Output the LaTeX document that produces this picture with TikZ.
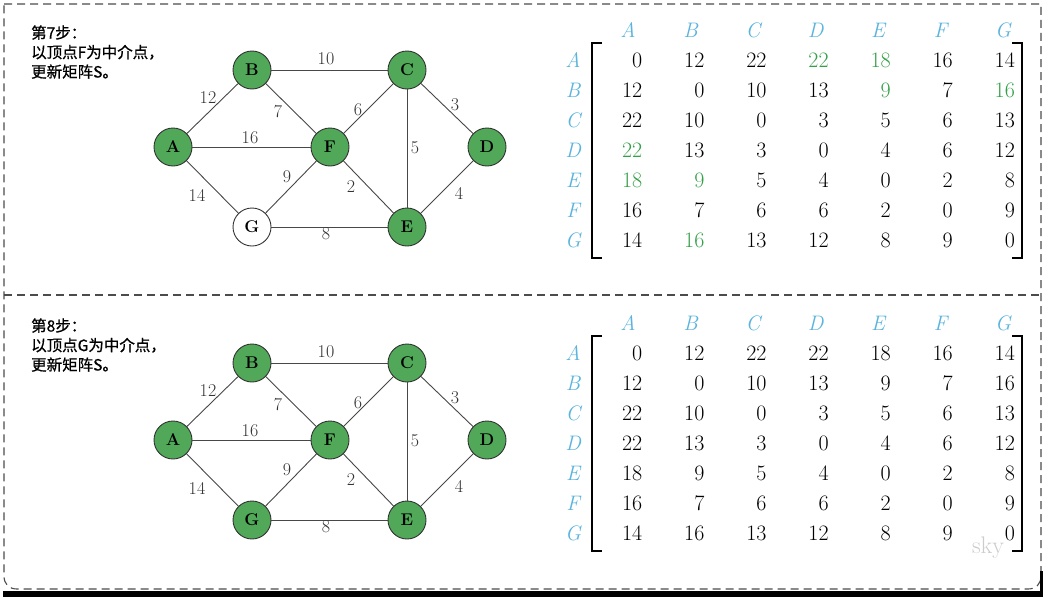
\documentclass[tikz,border=0pt]{standalone}
\usepackage{fontspec}
\newfontfamily\cjk[FakeBold=0.8]{Noto Sans CJK SC}
\definecolor{vgreen}{RGB}{80,168,88}
\definecolor{mgreen}{RGB}{52,160,72}
\definecolor{hblue}{RGB}{90,180,222}
\newcommand\hl[1]{\textcolor{mgreen}{#1}}

% one step: graph, caption and distance matrix
% #1 name prefix, #2 vertical offset, #3 fill of G, #4 step, #5 middle vertex, #6 matrix rows
\newcommand\drawstep[6]{%
  \begin{scope}[yshift=-#2pt]
    \node[steptext] (#1capa) at (31,38.5) {第#4步：};
    \node[steptext] (#1capb) at (31,58) {以顶点#5为中介点，};
    \node[steptext] (#1capc) at (31,77.5) {更新矩阵S。};
    % vertices
    \node[vtx] (#1A) at (173,147) {A};
    \node[vtx] (#1B) at (252,70)  {B};
    \node[vtx] (#1C) at (407,70)  {C};
    \node[vtx] (#1D) at (487,147) {D};
    \node[vtx] (#1E) at (407,227) {E};
    \node[vtx] (#1F) at (330,147) {F};
    \node[vtx, fill=#3] (#1G) at (252,227) {G};
    % edges
    \foreach \u/\w in {A/B,B/C,A/F,B/F,F/C,C/D,C/E,F/E,D/E,A/G,G/F,G/E}
      \draw[link] (#1\u) -- (#1\w);
    % edge weights
    \foreach \t/\x/\y in {10/326/59,12/208/98,7/278/112,6/358/110,3/455/105,
                          16/250/138,5/415/148,9/287/177,2/351/187,14/197/195,
                          4/459/193,8/326/234}
      \node[wlab] (#1w\t) at (\x,\y) {\t};
    % matrix headings
    \foreach \l [count=\i] in {A,B,C,D,E,F,G}{
      \node[hdr] (#1c\l) at ({628+62.5*(\i-1)},30) {\l};
      \node[hdr] (#1r\l) at (573,{60+30*(\i-1)}) {\l};
    }
    % matrix entries
    \foreach \row [count=\i] in {#6}
      \foreach \v [count=\j] in \row
        \node[ent] (#1m\i\j) at ({642.5+62.1*(\j-1)},{60+30*(\i-1)}) {\v};
    % brackets
    \draw[brk] (602,43) -- (592,43) -- (592,258) -- (602,258);
    \draw[brk] (1012,43) -- (1022,43) -- (1022,258) -- (1012,258);
  \end{scope}}

\begin{document}
\begin{tikzpicture}[x=1pt,y=-1pt,
  vtx/.style={circle, draw=black!80, line width=0.9pt, minimum size=38pt,
              inner sep=0pt, fill=vgreen, font=\fontsize{17}{17}\selectfont\bfseries},
  link/.style={draw=black!72, line width=0.9pt},
  wlab/.style={text=black!80, inner sep=0pt, font=\fontsize{18}{18}\selectfont},
  hdr/.style={text=hblue, inner sep=0pt, font=\fontsize{21}{21}\selectfont\itshape},
  ent/.style={anchor=east, inner sep=0pt, font=\fontsize{22}{22}\selectfont},
  brk/.style={line width=1.8pt},
  steptext/.style={anchor=base west, inner sep=0pt,
              font=\cjk\fontsize{15.5}{15.5}\selectfont},
  frame/.style={draw=black!70, line width=1.1pt, dash pattern=on 8pt off 5pt}]
\useasboundingbox (0,0) rectangle (1048,597);
\fill[white] (0,0) rectangle (1048,597);

% dashed frame with a divider between the two steps
\draw[frame] (4,4) -- (1041,4) -- (1041,576)
  .. controls (1041,584) and (1036,589) .. (1028,589) -- (17,589)
  .. controls (9,589) and (4,584) .. (4,576) -- cycle;
\draw[frame] (4,295) -- (1041,295);
% shadow under the frame
\fill[black] (3,591) rectangle (1043,597);
\fill[black] (1040,571) rectangle (1043,597);

\drawstep{t}{0}{white}{7}{F}{
  {0,12,22,\hl{22},\hl{18},16,14},
  {12,0,10,13,\hl{9},7,\hl{16}},
  {22,10,0,3,5,6,13},
  {\hl{22},13,3,0,4,6,12},
  {\hl{18},\hl{9},5,4,0,2,8},
  {16,7,6,6,2,0,9},
  {14,\hl{16},13,12,8,9,0}}
\drawstep{b}{293}{vgreen}{8}{G}{
  {0,12,22,22,18,16,14},
  {12,0,10,13,9,7,16},
  {22,10,0,3,5,6,13},
  {22,13,3,0,4,6,12},
  {18,9,5,4,0,2,8},
  {16,7,6,6,2,0,9},
  {14,16,13,12,8,9,0}}

\node[text=black!20, font=\fontsize{24}{24}\selectfont] (sky) at (988,548) {sky};
\end{tikzpicture}
\end{document}
